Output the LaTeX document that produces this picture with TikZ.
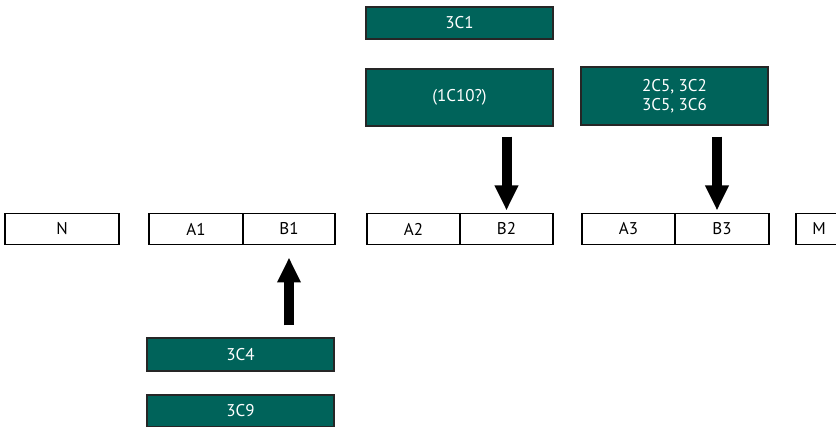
\documentclass[tikz,border=0pt]{standalone}
\usepackage{fontspec}
\setmainfont{PT Sans}
\usepackage{tikz}
\usetikzlibrary{positioning, arrows.meta}
\usepackage{xcolor}

\begin{document}
\begin{tikzpicture}[x=1pt, y=-1pt]
     % Colours and styles
        \definecolor{deepteal}{RGB}{0, 99, 90}  % dark green-teal fill
        \tikzset{
            cell/.style={draw, line width=1.1pt, minimum height=31pt, inner sep=0pt, outer sep=0pt, font=\fontsize{17}{19}\selectfont},
            tealbox/.style={draw=black!85, line width=1.2pt, fill=deepteal, text=white, minimum width=187pt, inner sep=0pt, align=center, font=\fontsize{17}{19}\selectfont},
            blockarrow/.style={line width=10pt, -{Triangle[width=22pt, length=25pt]}}
        }

        % Page frame
        \useasboundingbox (0,0) rectangle (836,427);
        \clip (0,0) rectangle (836,427);

        % Row of cells
        \node[cell, minimum width=114pt] (n) at (62,229) {N};
        \node[cell, minimum width=94pt] (a1) at (196,229) {A1};
        \node[cell, minimum width=92pt, right=0pt of a1] (b1) {B1};
        \node[cell, minimum width=93pt] (a2) at (413.5,229) {A2};
        \node[cell, minimum width=93pt, right=0pt of a2] (b2) {B2};
        \node[cell, minimum width=93pt] (a3) at (628.5,229) {A3};
        \node[cell, minimum width=94pt, right=0pt of a3] (b3) {B3};
        \node[cell, minimum width=46pt] (m) at (819,229) {M};

        % Teal boxes above
        \node[tealbox, minimum height=32pt] (c31) at (459.5,23) {3C1};
        \node[tealbox, minimum height=57pt] (c110) at (459.5,97.5) {(1C10?)};
        \node[tealbox, minimum height=58pt] (c25) at (674.5,96) {2C5, 3C2\\3C5, 3C6};

        % Teal boxes below
        \node[tealbox, minimum height=33pt] (c34) at (240.5,354.5) {3C4};
        \node[tealbox, minimum height=32pt] (c39) at (240.5,411) {3C9};

        % Block arrows
        \draw[blockarrow, shorten <=10pt, shorten >=3pt] (b2.north |- c110.south) -- (b2.north);
        \draw[blockarrow, shorten <=11pt, shorten >=3pt] ([xshift=-5pt]b3.north |- c25.south) -- ([xshift=-5pt]b3.north);
        \draw[blockarrow, shorten <=12pt, shorten >=13pt] (b1.south |- c34.north) -- (b1.south);

    \end{tikzpicture}
\end{document}
